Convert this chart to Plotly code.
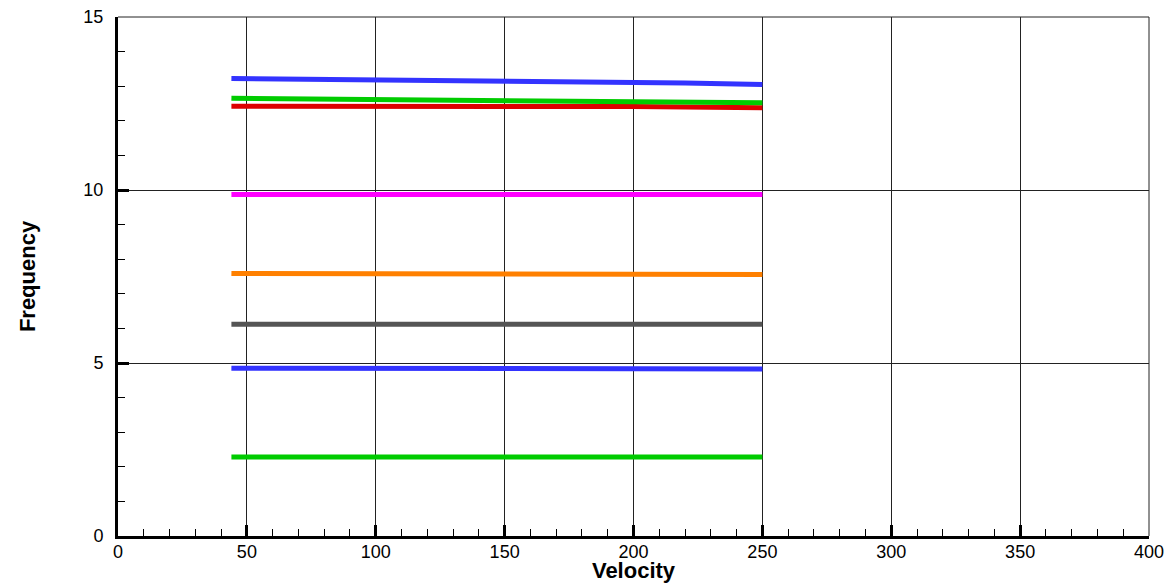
import plotly.graph_objects as go

velocity = [44, 60, 80, 100, 120, 140, 160, 180, 200, 220, 240, 250]

freq_blue_top = [13.22, 13.21, 13.20, 13.19, 13.18, 13.16, 13.15, 13.13, 13.11, 13.09, 13.06, 13.05]
freq_green_top = [12.65, 12.64, 12.62, 12.61, 12.60, 12.59, 12.58, 12.57, 12.55, 12.54, 12.53, 12.52]
freq_red = [12.42, 12.42, 12.42, 12.43, 12.44, 12.44, 12.44, 12.43, 12.41, 12.40, 12.39, 12.38]
freq_magenta = [9.87, 9.87, 9.87, 9.87, 9.87, 9.87, 9.87, 9.87, 9.87, 9.87, 9.87, 9.87]
freq_orange = [7.59, 7.59, 7.59, 7.58, 7.57, 7.57, 7.56, 7.56, 7.56, 7.56, 7.56, 7.56]
freq_gray = [6.12, 6.12, 6.12, 6.12, 6.12, 6.12, 6.12, 6.12, 6.12, 6.12, 6.12, 6.12]
freq_blue_low = [4.85, 4.85, 4.85, 4.85, 4.85, 4.85, 4.85, 4.85, 4.85, 4.84, 4.83, 4.83]
freq_green_low = [2.28, 2.28, 2.28, 2.28, 2.28, 2.28, 2.28, 2.28, 2.28, 2.28, 2.28, 2.28]

series = [
    (freq_green_low, "#00CC00"),
    (freq_blue_low, "#3333FF"),
    (freq_gray, "#555555"),
    (freq_orange, "#FF8000"),
    (freq_magenta, "#FF00FF"),
    (freq_red, "#DD0000"),
    (freq_green_top, "#00CC00"),
    (freq_blue_top, "#3333FF"),
]

x_ticks = [0, 50, 100, 150, 200, 250, 300, 350, 400]
y_ticks = [0, 5, 10, 15]

fig = go.Figure()
for vals, col in series:
    fig.add_trace(go.Scatter(x=velocity, y=vals, mode="lines",
                             line=dict(color=col, width=5), showlegend=False))

font_family = "Liberation Sans, Arial, sans-serif"

fig.update_layout(
    width=1166, height=583,
    margin=dict(l=118, r=17, t=17, b=47, autoexpand=False),
    paper_bgcolor="white", plot_bgcolor="white",
    font=dict(family=font_family, color="black", size=18),
    xaxis=dict(
        range=[0, 400], tickvals=x_ticks, ticks="inside", ticklen=11, tickwidth=3,
        tickcolor="black", showline=True, linecolor="black", linewidth=3,
        showgrid=True, gridcolor="#222222", gridwidth=1, zeroline=False,
        minor=dict(ticks="inside", ticklen=7, tickwidth=1, tickcolor="black", dtick=10, showgrid=False),
        tickfont=dict(size=18), automargin=False, ticklabelstandoff=-3,
        title=dict(text="<b>Velocity</b>", font=dict(size=22), standoff=1),
    ),
    yaxis=dict(
        range=[0, 15], tickvals=y_ticks, ticks="inside", ticklen=11, tickwidth=3,
        tickcolor="black", showline=True, linecolor="black", linewidth=3,
        showgrid=True, gridcolor="#222222", gridwidth=1, zeroline=False,
        minor=dict(ticks="inside", ticklen=7, tickwidth=1, tickcolor="black", dtick=1, showgrid=False),
        tickfont=dict(size=18), automargin=False, ticklabelstandoff=8,
        title=dict(text="<b>Frequency</b>", font=dict(size=22), standoff=42),
    ),
    shapes=[
        dict(type="line", xref="paper", yref="paper", x0=0, x1=1, y0=1, y1=1,
             line=dict(color="#222222", width=1), layer="below"),
        dict(type="line", xref="paper", yref="paper", x0=1, x1=1, y0=0, y1=1,
             line=dict(color="#222222", width=1), layer="below"),
    ],
)

fig.write_html("out.html", config={"displayModeBar": False},
               post_script="document.body.style.margin='0';document.body.style.overflow='hidden';")
